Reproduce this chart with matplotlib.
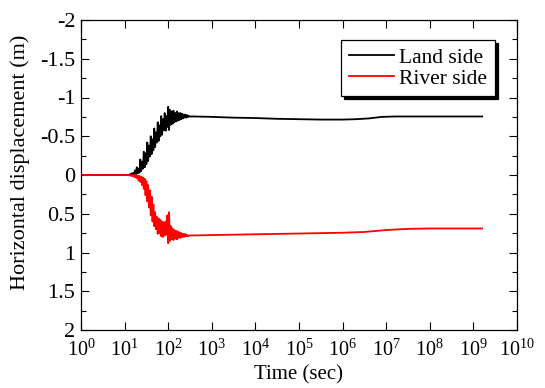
import numpy as np
import matplotlib
matplotlib.use("Agg")
import matplotlib.pyplot as plt
from matplotlib.ticker import FixedLocator, LogFormatterMathtext, MultipleLocator, NullLocator

plt.rcParams['font.family'] = ['Liberation Serif', 'DejaVu Serif']
plt.rcParams['mathtext.fontset'] = 'custom'
plt.rcParams['mathtext.rm'] = 'Liberation Serif'
plt.rcParams['mathtext.it'] = 'Liberation Serif:italic'
plt.rcParams['mathtext.bf'] = 'Liberation Serif:bold'

# ---- data (log10 of time in sec, displacement in m) ----
start_logt = [0.0, 0.5, 1.0, 1.08]
start_val = [0.0, 0.0, 0.0, 0.0]

noisy_logt = [1.10, 1.12, 1.14, 1.16, 1.18, 1.20, 1.22, 1.24, 1.26, 1.28,
              1.30, 1.32, 1.34, 1.36, 1.38, 1.40, 1.42, 1.44, 1.46, 1.48,
              1.50, 1.52, 1.54, 1.56, 1.58, 1.60, 1.62, 1.64, 1.66, 1.68,
              1.70, 1.72, 1.74, 1.76, 1.78, 1.80, 1.82, 1.84, 1.86, 1.88,
              1.90, 1.92, 1.94, 1.96, 1.98, 2.00, 2.02, 2.04, 2.06, 2.08,
              2.10, 2.12, 2.14, 2.16, 2.18, 2.20, 2.22, 2.24, 2.26, 2.28,
              2.30, 2.32, 2.34, 2.36, 2.38, 2.40, 2.42, 2.44, 2.46, 2.48, 2.50]

land_noisy = [0.00, -0.01, 0.00, -0.02, 0.00, -0.03, 0.00, -0.06, -0.01, -0.10,
              -0.02, -0.08, -0.03, -0.20, -0.05, -0.17, -0.08, -0.30, -0.10, -0.28,
              -0.14, -0.42, -0.18, -0.38, -0.24, -0.50, -0.27, -0.46, -0.32, -0.60,
              -0.36, -0.55, -0.42, -0.68, -0.44, -0.64, -0.50, -0.76, -0.52, -0.72,
              -0.58, -0.80, -0.57, -0.76, -0.62, -0.88, -0.58, -0.84, -0.65, -0.82,
              -0.66, -0.83, -0.68, -0.80, -0.69, -0.82, -0.70, -0.80, -0.71, -0.80,
              -0.72, -0.79, -0.73, -0.78, -0.74, -0.78, -0.74, -0.77, -0.75, -0.76, -0.755]

river_noisy = [0.00, 0.01, 0.00, 0.01, 0.00, 0.02, 0.00, 0.03, 0.00, 0.04,
               0.01, 0.07, 0.01, 0.09, 0.02, 0.13, 0.03, 0.18, 0.05, 0.26,
               0.08, 0.34, 0.13, 0.42, 0.20, 0.52, 0.28, 0.60, 0.38, 0.66,
               0.48, 0.70, 0.54, 0.76, 0.56, 0.75, 0.58, 0.79, 0.60, 0.80,
               0.61, 0.78, 0.60, 0.77, 0.52, 0.88, 0.48, 0.85, 0.66, 0.83,
               0.69, 0.84, 0.71, 0.82, 0.72, 0.83, 0.73, 0.81, 0.74, 0.81,
               0.75, 0.80, 0.76, 0.80, 0.76, 0.79, 0.77, 0.79, 0.78, 0.785, 0.78]

land_late_logt = [2.6, 3.0, 3.5, 4.0, 4.5, 5.0, 5.5, 6.0, 6.3, 6.6, 6.9, 7.2, 8.0, 9.2]
land_late = [-0.755, -0.75, -0.74, -0.735, -0.725, -0.72, -0.715, -0.715, -0.72,
             -0.73, -0.75, -0.755, -0.755, -0.755]

river_late_logt = [2.6, 3.0, 4.0, 5.0, 6.0, 6.5, 7.0, 7.5, 8.0, 9.2]
river_late = [0.78, 0.775, 0.765, 0.755, 0.745, 0.735, 0.71, 0.695, 0.69, 0.69]

x_tick_exps = list(range(0, 11))
y_ticks = [-2, -1.5, -1, -0.5, 0, 0.5, 1, 1.5, 2]
y_tick_labels = ['-2', '-1.5', '-1', '-0.5', '0', '0.5', '1', '1.5', '2']

land_t = 10.0 ** np.array(start_logt + noisy_logt + land_late_logt)
land_v = np.array(start_val + land_noisy + land_late)
river_t = 10.0 ** np.array(start_logt + noisy_logt + river_late_logt)
river_v = np.array(start_val + river_noisy + river_late)

fig = plt.figure(figsize=(5.45, 3.88), dpi=100)
ax = fig.add_axes([81/545, 58/388, 436/545, 310/388])

ax.plot(land_t, land_v, color='black', lw=1.3, label='Land side')
ax.plot(river_t, river_v, color='red', lw=1.3, label='River side')

ax.set_xscale('log')
ax.set_xlim(1, 1e10)
ax.set_ylim(2, -2)

ax.xaxis.set_major_locator(FixedLocator([10.0 ** e for e in x_tick_exps]))
ax.xaxis.set_major_formatter(LogFormatterMathtext())
ax.xaxis.set_minor_locator(NullLocator())
ax.yaxis.set_major_locator(FixedLocator(y_ticks))
ax.yaxis.set_minor_locator(MultipleLocator(0.25))
ax.set_yticklabels(y_tick_labels)

ax.tick_params(which='both', direction='in', top=True, right=True, width=0.8)
ax.tick_params(which='major', length=6)
ax.tick_params(which='minor', length=3.5)
ax.tick_params(axis='y', which='major', labelsize=16, pad=4)
ax.tick_params(axis='x', which='major', labelsize=14.5, pad=7)
for s in ax.spines.values():
    s.set_linewidth(0.9)

ax.set_xlabel('Time (sec)', fontsize=15, labelpad=3)
ax.set_ylabel('Horizontal displacement (m)', fontsize=16)
ax.yaxis.set_label_coords(-51/436, 0.54)

leg = ax.legend(loc='upper right', bbox_to_anchor=((495-81)/436, 1-(40-20)/310),
                borderaxespad=0, fontsize=15.5, fancybox=False,
                shadow={'color': 'black', 'alpha': 1, 'ox': 2, 'oy': -2},
                edgecolor='black', framealpha=1, handlelength=2.1, handletextpad=0.25,
                labelspacing=0.05, borderpad=0.35)
leg.get_frame().set_linewidth(0.9)

fig.savefig('out.png', dpi=100)
